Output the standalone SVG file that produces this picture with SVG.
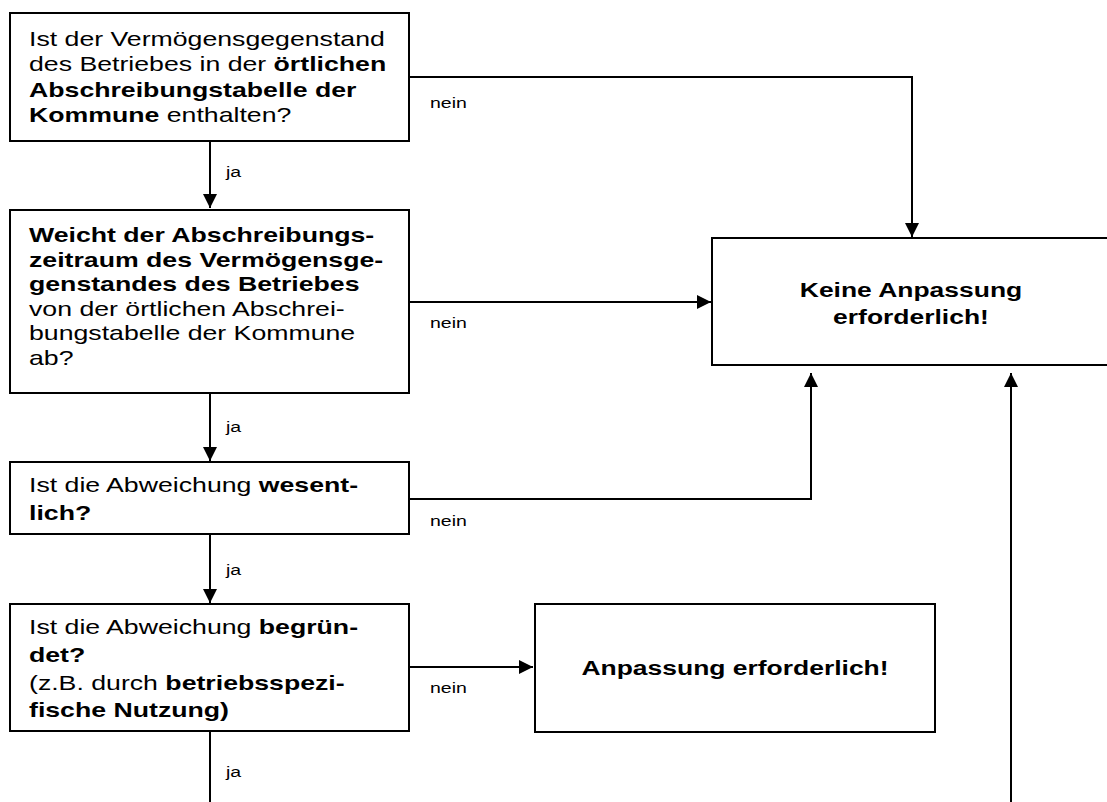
<svg xmlns="http://www.w3.org/2000/svg" width="1107" height="802" viewBox="0 0 1107 802">
<style>
.box{fill:#fff;stroke:#000;stroke-width:2}
.t{font-family:"Liberation Sans",Arial,sans-serif;font-size:21px;fill:#000}
.b{font-weight:bold}
.lbl{font-family:"Liberation Sans",Arial,sans-serif;font-size:15px;fill:#000}
.c{fill:none;stroke:#000;stroke-width:2}
</style>
<defs>
<marker id="ah" markerUnits="userSpaceOnUse" markerWidth="14" markerHeight="14" viewBox="0 0 14 14" refX="14" refY="7" orient="auto">
<path d="M0,0 L14,7 L0,14 Z" fill="#000"/>
</marker>
</defs>
<rect width="1107" height="802" fill="#fff"/>
<g id="connectors">
<path class="c" d="M210,141 V208" marker-end="url(#ah)"/>
<path class="c" d="M210,393 V461" marker-end="url(#ah)"/>
<path class="c" d="M210,535 V603" marker-end="url(#ah)"/>
<path class="c" d="M210,731 V802"/>
<path class="c" d="M409,77 H912 V237" marker-end="url(#ah)"/>
<path class="c" d="M409,302 H711" marker-end="url(#ah)"/>
<path class="c" d="M409,499 H811 V373" marker-end="url(#ah)"/>
<path class="c" d="M409,667 H533" marker-end="url(#ah)"/>
<path class="c" d="M1011,802 V373" marker-end="url(#ah)"/>
<g transform="translate(226,0) scale(1.3,1)">
<text class="lbl" x="0" y="177">ja</text>
<text class="lbl" x="0" y="432">ja</text>
<text class="lbl" x="0" y="575">ja</text>
<text class="lbl" x="0" y="777">ja</text>
</g>
<g transform="translate(430,0) scale(1.3,1)">
<text class="lbl" x="0" y="108">nein</text>
<text class="lbl" x="0" y="328">nein</text>
<text class="lbl" x="0" y="526">nein</text>
<text class="lbl" x="0" y="693">nein</text>
</g>
</g>
<g id="q1">
<rect class="box" x="10" y="13" width="399" height="128"/>
<g transform="translate(29,0) scale(1.27,1)">
<text class="t" x="0" y="46">Ist der Vermögensgegenstand</text>
<text class="t" x="0" y="71.5">des Betriebes in der <tspan class="b">örtlichen</tspan></text>
<text class="t b" x="0" y="97">Abschreibungstabelle der</text>
<text class="t" x="0" y="122.5"><tspan class="b">Kommune</tspan> enthalten?</text>
</g>
</g>
<g id="q2">
<rect class="box" x="10" y="210" width="399" height="183"/>
<g transform="translate(29,0) scale(1.27,1)">
<text class="t b" x="0" y="242.5">Weicht der Abschreibungs-</text>
<text class="t b" x="0" y="267">zeitraum des Vermögensge-</text>
<text class="t b" x="0" y="291.5">genstandes des Betriebes</text>
<text class="t" x="0" y="316">von der örtlichen Abschrei-</text>
<text class="t" x="0" y="340.5">bungstabelle der Kommune</text>
<text class="t" x="0" y="365">ab?</text>
</g>
</g>
<g id="q3">
<rect class="box" x="10" y="462" width="399" height="72"/>
<g transform="translate(29,0) scale(1.27,1)">
<text class="t" x="0" y="492">Ist die Abweichung <tspan class="b">wesent-</tspan></text>
<text class="t b" x="0" y="520">lich?</text>
</g>
</g>
<g id="q4">
<rect class="box" x="10" y="604" width="399" height="127"/>
<g transform="translate(29,0) scale(1.27,1)">
<text class="t" x="0" y="634">Ist die Abweichung <tspan class="b">begrün-</tspan></text>
<text class="t b" x="0" y="662">det?</text>
<text class="t" x="0" y="690">(z.B. durch <tspan class="b">betriebsspezi-</tspan></text>
<text class="t b" x="0" y="717">fische Nutzung)</text>
</g>
</g>
<g id="keine">
<rect class="box" x="712" y="238" width="410" height="127"/>
<g transform="translate(911,0) scale(1.26,1)">
<text class="t b" x="0" y="297" text-anchor="middle">Keine Anpassung</text>
<text class="t b" x="0" y="324" text-anchor="middle">erforderlich!</text>
</g>
</g>
<g id="anpassung">
<rect class="box" x="535" y="604" width="400" height="128"/>
<g transform="translate(735,0) scale(1.26,1)">
<text class="t b" x="0" y="675" text-anchor="middle">Anpassung erforderlich!</text>
</g>
</g>
</svg>
